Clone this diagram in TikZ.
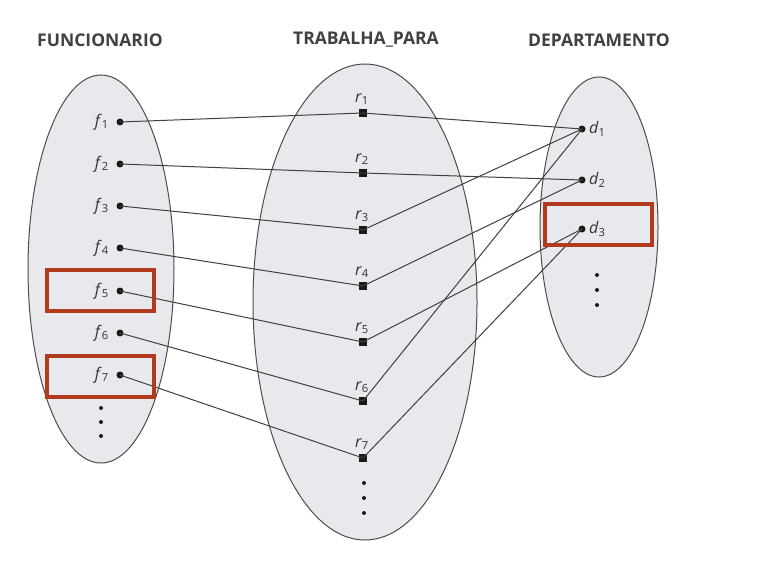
\documentclass[tikz,border=0pt]{standalone}
\usepackage{fontspec}
\setmainfont{Open Sans}
\definecolor{hlred}{HTML}{B23A1E}
\definecolor{setfill}{HTML}{E8E9ED}
\begin{document}
\begin{tikzpicture}[x=1pt,y=-1pt,
  set/.style={draw=black!70,fill=setfill,line width=1pt},
  hdr/.style={font=\bfseries\fontsize{17.5}{20}\selectfont,text=black!75},
  lbl/.style={font=\fontsize{16}{18}\selectfont,text=black!80,inner sep=1pt},
  pt/.style={circle,fill=black!90,inner sep=0pt,minimum size=7pt},
  sq/.style={rectangle,fill=black!90,inner sep=0pt,minimum size=8pt},
  dt/.style={circle,fill=black!90,inner sep=0pt,minimum size=4pt},
  link/.style={draw=black!75,line width=1pt},
  hl/.style={draw=hlred,line width=3.2pt}]
\useasboundingbox (0,0) rectangle (759,577);
\fill[white] (0,0) rectangle (759,577);
% sets
\draw[set] (101,269) ellipse [x radius=73, y radius=194];
\draw[set] (365,302) ellipse [x radius=112, y radius=238];
\draw[set] (599,227) ellipse [x radius=59, y radius=150];
% headers
\node[hdr] (h1) at (100,40) {FUNCIONARIO};
\node[hdr] (h2) at (366,40) {TRABALHA\_PARA};
\node[hdr] (h3) at (599,40) {DEPARTAMENTO};
% f points
\foreach \i/\y in {1/122,2/164,3/206,4/248,5/291,6/333,7/375}{
  \node[pt] (f\i) at (120,\y) {};
  \node[lbl,anchor=east] (fl\i) at (110,\y) {\textit{f}\textsubscript{\i}};
}
\node[dt] (fd1) at (101,408) {};
\node[dt] (fd2) at (101,422) {};
\node[dt] (fd3) at (101,436) {};
% r points
\foreach \i/\y in {1/113,2/173,3/230,4/286,5/342,6/401,7/458}{
  \node[sq] (r\i) at (363,\y) {};
  \node[lbl,anchor=south] (rl\i) at (362,\y-7) {\textit{r}\textsubscript{\i}};
}
\node[dt] (rd1) at (364,483) {};
\node[dt] (rd2) at (364,498) {};
\node[dt] (rd3) at (364,513) {};
% d points
\foreach \i/\y in {1/129,2/180,3/229}{
  \node[pt] (d\i) at (582,\y) {};
  \node[lbl,anchor=west] (dl\i) at (588,\y) {\textit{d}\textsubscript{\i}};
}
\node[dt] (dd1) at (597,275) {};
\node[dt] (dd2) at (597,290) {};
\node[dt] (dd3) at (597,305) {};
% links
\foreach \i in {1,...,7}{ \draw[link] (f\i.center) -- (r\i.center); }
\draw[link] (r1.center) -- (d1.center);
\draw[link] (r2.center) -- (d2.center);
\draw[link] (r3.center) -- (d1.center);
\draw[link] (r4.center) -- (d2.center);
\draw[link] (r5.center) -- (d3.center);
\draw[link] (r6.center) -- (d1.center);
\draw[link] (r7.center) -- (d3.center);
% highlights
\draw[hl] (47,270) rectangle (154,311);
\draw[hl] (47,356) rectangle (154,397);
\draw[hl] (545,204) rectangle (652,245);
\end{tikzpicture}
\end{document}
